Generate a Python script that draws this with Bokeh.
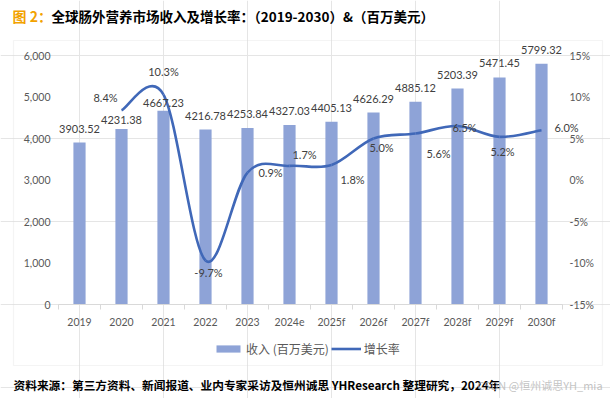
from bokeh.plotting import figure
from bokeh.models import (Range1d, LinearAxis, FixedTicker, NumeralTickFormatter,
                          PrintfTickFormatter, Label, LabelSet, ColumnDataSource,
                          BoxAnnotation, Legend, LegendItem)
from bokeh.core.properties import value
from bokeh.embed import file_html
from bokeh.resources import INLINE

# ---------------- data ----------------
years = ["2019", "2020", "2021", "2022", "2023", "2024e", "2025f",
         "2026f", "2027f", "2028f", "2029f", "2030f"]
revenue = [3903.52, 4231.38, 4667.23, 4216.78, 4253.84, 4327.03, 4405.13,
           4626.29, 4885.12, 5203.39, 5471.45, 5799.32]
growth_years = years[1:]
growth = [8.4, 10.3, -9.7, 0.9, 1.7, 1.8, 5.0, 5.6, 6.5, 5.2, 6.0]
left_ticks = [0, 1000, 2000, 3000, 4000, 5000, 6000]
right_ticks = [-15, -10, -5, 0, 5, 10, 15]

title_prefix = "图 2："
title_text = "全球肠外营养市场收入及增长率：（2019-2030）&（百万美元）"
footer_text = "资料来源：第三方资料、新闻报道、业内专家采访及恒州诚思 YHResearch 整理研究，2024年"
watermark_text = "CSDN @恒州诚思YH_mia"
legend_bar = "收入 (百万美元)"
legend_line = "增长率"

# ---------------- layout (px, page coordinates) ----------------
W, H = 610, 398
PX0, PX1 = 58, 562        # plot area left/right
PY0, PY1 = 55, 304        # plot area top/bottom
BAR_COLOR = "#8EA3D7"
LINE_COLOR = "#4068B8"
FONT = "Lato"
CJK = "Noto Sans CJK SC"

# label offsets (px; dx right, dy down)
pct_dx = [-16, 0, 3, 23, 15, 21, 8, 23, 7, 3, 25]
pct_dy = [-13, -23, 12, 0, -11, 14, 9, 20, 1, 15, -3]
bar_dy = [-14, -9, -8, -14, -14, -14, -14, -14, -14, -14, -14, -14]

ncat = len(years)
cw = (PX1 - PX0) / ncat                    # px per category
x_lo, x_hi = -0.5, ncat - 0.5
ymax = left_ticks[-1]
ppu = (PY1 - PY0) / ymax                   # px per revenue unit
pmin, pmax = right_ticks[0], right_ticks[-1]
ppp = (PY1 - PY0) / (pmax - pmin)          # px per percent point

x_range = Range1d(x_lo - PX0 / cw, x_hi + (W - PX1) / cw)
y_range = Range1d(-(H - PY1) / ppu, PY1 / ppu)
pct_range = Range1d(pmin - (H - PY1) / ppp, pmax + PY0 / ppp)


def sx(px):
    return px


def sy(py):
    return H - py


xi = list(range(ncat))
gx = [years.index(y) for y in growth_years]

p = figure(width=W, height=H, output_backend="svg", toolbar_location=None,
           x_range=x_range, y_range=y_range, x_axis_location=None,
           y_axis_location=None, min_border=0,
           background_fill_color="white", border_fill_color="white")
p.outline_line_color = None
p.extra_y_ranges = {"pct": pct_range}


def style_axis(ax, standoff):
    ax.axis_line_color = None
    ax.major_tick_line_color = None
    ax.minor_tick_line_color = None
    ax.major_tick_out = 0
    ax.major_tick_in = 0
    ax.major_label_standoff = standoff
    ax.major_label_text_font = FONT
    ax.major_label_text_font_size = "10.5px"
    ax.major_label_text_color = "#595959"


ly = LinearAxis(ticker=FixedTicker(ticks=left_ticks),
                formatter=NumeralTickFormatter(format="0,0"),
                fixed_location=x_lo)
style_axis(ly, 8)
p.add_layout(ly, "left")

ry = LinearAxis(y_range_name="pct", ticker=FixedTicker(ticks=right_ticks),
                formatter=PrintfTickFormatter(format="%d%%"),
                fixed_location=x_hi)
style_axis(ry, 7)
p.add_layout(ry, "right")

xa = LinearAxis(ticker=FixedTicker(ticks=xi, minor_ticks=[i - 0.5 for i in range(ncat + 1)]),
                fixed_location=0, bounds=(x_lo, x_hi))
style_axis(xa, 6)
xa.major_label_overrides = {i: y for i, y in zip(xi, years)}
xa.axis_line_color = "#D9D9D9"
xa.minor_tick_line_color = "#D9D9D9"
xa.minor_tick_out = 5
xa.minor_tick_in = 0
p.add_layout(xa, "below")

# bars
bar_src = ColumnDataSource(dict(x=xi, top=revenue,
                                label=["%.2f" % v for v in revenue],
                                dy=[-d for d in bar_dy]))
bars = p.vbar(x="x", top="top", width=0.29, source=bar_src,
              fill_color=BAR_COLOR, line_color=None)

# smooth growth line (Catmull-Rom -> cubic Bezier through the data points)
n = len(gx)
x0s, y0s, x1s, y1s, cx0, cy0, cx1, cy1 = [], [], [], [], [], [], [], []
for i in range(n - 1):
    xm, ym = gx[max(i - 1, 0)], growth[max(i - 1, 0)]
    xa0, ya0 = gx[i], growth[i]
    xb, yb = gx[i + 1], growth[i + 1]
    xp, yp = gx[min(i + 2, n - 1)], growth[min(i + 2, n - 1)]
    x0s.append(xa0); y0s.append(ya0); x1s.append(xb); y1s.append(yb)
    cx0.append(xa0 + (xb - xm) / 6.0); cy0.append(ya0 + (yb - ym) / 6.0)
    cx1.append(xb - (xp - xa0) / 6.0); cy1.append(yb - (yp - ya0) / 6.0)
curve = p.bezier(x0=x0s, y0=y0s, x1=x1s, y1=y1s, cx0=cx0, cy0=cy0, cx1=cx1, cy1=cy1,
                 y_range_name="pct", line_color=LINE_COLOR, line_width=2.6)

# data labels
p.add_layout(LabelSet(x="x", y="top", text="label", source=bar_src,
                      y_offset="dy", text_align="center", text_baseline="middle",
                      text_font=value(FONT), text_font_size="11px",
                      text_color="#404040"))
pct_src = ColumnDataSource(dict(x=gx, y=growth,
                                label=["%.1f%%" % v for v in growth],
                                dx=pct_dx, dy=[-d for d in pct_dy]))
p.add_layout(LabelSet(x="x", y="y", text="label", source=pct_src,
                      y_range_name="pct", x_offset="dx", y_offset="dy",
                      text_align="center", text_baseline="middle",
                      text_font=value(FONT), text_font_size="11px",
                      text_color="#404040"))

# legend
legend = Legend(items=[LegendItem(label=legend_bar, renderers=[bars]),
                       LegendItem(label=legend_line, renderers=[curve])],
                orientation="horizontal", location=(sx(213), sy(357)),
                glyph_width=30, glyph_height=9, label_height=9,
                label_standoff=3, spacing=2, padding=0, margin=0,
                border_line_color=None, background_fill_alpha=0,
                label_text_font=CJK, label_text_font_size="12px",
                label_text_color="#595959", label_text_baseline="middle")
p.add_layout(legend, "center")

# chart border box
p.add_layout(BoxAnnotation(left=sx(13), right=sx(602), top=sy(40), bottom=sy(365),
                           left_units="screen", right_units="screen",
                           top_units="screen", bottom_units="screen",
                           fill_alpha=0, line_color="#D9D9D9", line_width=1.2,
                           level="underlay"))

# title, footer, watermark
p.add_layout(Label(x=sx(12), y=sy(15), x_units="screen", y_units="screen",
                   text=title_prefix, text_font=CJK, text_font_style="bold",
                   text_font_size="14px", text_color="#F2A200",
                   text_baseline="middle"))
p.add_layout(Label(x=sx(51), y=sy(15), x_units="screen", y_units="screen",
                   text=title_text, text_font=CJK, text_font_style="bold",
                   text_font_size="13.5px", text_color="#000000",
                   text_baseline="middle"))
p.add_layout(Label(x=sx(13), y=sy(384), x_units="screen", y_units="screen",
                   text=footer_text, text_font=CJK, text_font_style="bold",
                   text_font_size="11.7px", text_color="#000000",
                   text_baseline="middle"))
p.add_layout(Label(x=sx(477), y=sy(384), x_units="screen", y_units="screen",
                   text=watermark_text, text_font=CJK,
                   text_font_size="11px", text_color="#B4B4B4", text_alpha=0.8,
                   text_baseline="middle"))

open("out.html", "w").write(file_html(p, INLINE))
